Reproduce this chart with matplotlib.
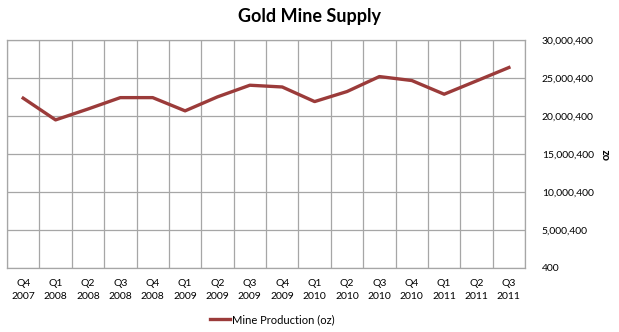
import numpy as np
import matplotlib.pyplot as plt
from matplotlib.ticker import FuncFormatter

plt.rcParams['font.family'] = ['Lato', 'DejaVu Sans']

# datos
trimestres = ['Q4\n2007', 'Q1\n2008', 'Q2\n2008', 'Q3\n2008', 'Q4\n2008', 'Q1\n2009',
              'Q2\n2009', 'Q3\n2009', 'Q4\n2009', 'Q1\n2010', 'Q2\n2010', 'Q3\n2010',
              'Q4\n2010', 'Q1\n2011', 'Q2\n2011', 'Q3\n2011']
produccion = [22.33e6, 19.47e6, 20.9e6, 22.4e6, 22.4e6, 20.66e6,
              22.5e6, 24.03e6, 23.8e6, 21.88e6, 23.2e6, 25.17e6,
              24.65e6, 22.85e6, 24.6e6, 26.36e6]
ticks_y = [400, 5000400, 10000400, 15000400, 20000400, 25000400, 30000400]

color_linea = '#9b3b3a'
color_grilla = '#a6a6a6'

fig = plt.figure(figsize=(6.19, 3.32), dpi=100)
ax = fig.add_axes([0.0113, 0.193, 0.837, 0.687])

x = np.arange(len(trimestres))
ax.plot(x, produccion, color=color_linea, lw=2.4, solid_joinstyle='round',
        label='Mine Production (oz)')

ax.set_xlim(-0.5, len(trimestres) - 0.5)
ax.set_ylim(ticks_y[0], ticks_y[-1])
ax.set_xticks(x)
ax.set_xticklabels(trimestres, fontsize=7.5, linespacing=1.5)
ax.set_xticks(np.arange(len(trimestres) + 1) - 0.5, minor=True)
ax.tick_params(axis='x', which='both', length=0, pad=8)
ax.grid(True, which='minor', axis='x', color=color_grilla, lw=0.9)

ax.yaxis.tick_right()
ax.set_yticks(ticks_y)
ax.yaxis.set_major_formatter(FuncFormatter(lambda v, p: f'{int(v):,}'))
ax.tick_params(axis='y', length=0, pad=12, labelsize=7.5)
ax.grid(True, which='major', axis='y', color=color_grilla, lw=0.9)
ax.set_axisbelow(True)

for s in ax.spines.values():
    s.set_color(color_grilla)
    s.set_linewidth(0.9)

ax.yaxis.set_label_position('right')
ax.set_ylabel('oz', fontsize=8, fontweight='bold', labelpad=5)

fig.suptitle('Gold Mine Supply', x=0.5, y=0.975, fontsize=13, fontweight='bold')
fig.legend(loc='lower center', bbox_to_anchor=(0.44, -0.01), frameon=False,
           fontsize=8, handlelength=1.8, handletextpad=0.1)

fig.savefig('out.png', dpi=100)
